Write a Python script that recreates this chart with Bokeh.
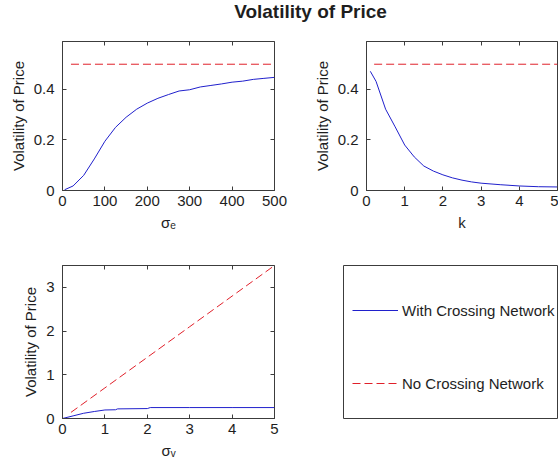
from bokeh.plotting import figure
from bokeh.models import (Range1d, FixedTicker, LinearAxis, Legend, LegendItem, Label,
                          CustomLabelingPolicy)
from bokeh.layouts import column, row
from bokeh.embed import file_html
from bokeh.resources import INLINE

# ---------------- data ----------------
sigma_e = [5, 25, 50, 75, 100, 125, 150, 175, 200, 225, 250, 275, 300, 325, 350, 375, 400, 425, 450, 475, 500]
vol_with_sigma_e = [0.003, 0.018, 0.06, 0.125, 0.195, 0.25, 0.29, 0.322, 0.346, 0.365, 0.38, 0.394, 0.399,
                    0.41, 0.416, 0.422, 0.429, 0.433, 0.44, 0.444, 0.448]
sigma_e_no = [20, 500]
vol_no_sigma_e = [0.5, 0.5]

k_vals = [0.1, 0.25, 0.5, 0.75, 1.0, 1.25, 1.5, 1.75, 2.0, 2.25, 2.5, 2.75, 3.0, 3.5, 4.0, 4.5, 5.0]
vol_with_k = [0.472, 0.432, 0.322, 0.252, 0.18, 0.133, 0.097, 0.077, 0.062, 0.05, 0.041, 0.034, 0.029,
              0.023, 0.018, 0.015, 0.014]
k_no = [0.2, 5.0]
vol_no_k = [0.5, 0.5]

sigma_v = [0.0, 0.25, 0.5, 0.75, 1.0, 1.25, 1.3, 2.0, 2.07, 3.0, 4.0, 5.0]
vol_with_sigma_v = [0.0, 0.06, 0.12, 0.16, 0.195, 0.2, 0.22, 0.227, 0.25, 0.25, 0.25, 0.25]
sigma_v_no = [0.2, 1.0, 2.0, 3.0, 4.0, 5.0]
vol_no_sigma_v = [0.14, 0.7, 1.4, 2.1, 2.8, 3.5]

xticks_e = [0, 100, 200, 300, 400, 500]
xtick_labels_e = ["0", "100", "200", "300", "400", "500"]
xticks_5 = [0, 1, 2, 3, 4, 5]
xtick_labels_5 = ["0", "1", "2", "3", "4", "5"]
yticks_small = [0, 0.2, 0.4]
ytick_labels_small = ["0", "0.2", "0.4"]
yticks_v = [0, 1, 2, 3]
ytick_labels_v = ["0", "1", "2", "3"]

title_text = "Volatility of Price"
ylabel_text = "Volatility of Price"
legend_labels = ["With Crossing Network", "No Crossing Network"]

# ---------------- style ----------------
FONT = "Liberation Sans"
AX = "#3c3c3c"
TXT = "#1e1e1e"
BLUE = "#2020cc"
RED = "#e0202a"
DASH = "8 4"

NO_LABELS = CustomLabelingPolicy(code="""
for (const i of indices) indices.unset(i)
return indices
""")


def make_fig(width, height, left, right, top, bottom, xr, yr):
    p = figure(width=width, height=height, toolbar_location=None, output_backend="svg",
               x_range=Range1d(*xr), y_range=Range1d(*yr),
               min_border_left=left, min_border_right=right,
               min_border_top=top, min_border_bottom=bottom)
    p.background_fill_color = "white"
    p.border_fill_color = "white"
    p.grid.visible = False
    p.outline_line_color = AX
    p.outline_line_width = 1
    return p


def style_axes(p, xt, xl, yt, yl, xlabel, ylabel, right_ticks=True):
    for ax, ticks, labels, lab in ((p.xaxis[0], xt, xl, xlabel), (p.yaxis[0], yt, yl, ylabel)):
        ax.ticker = FixedTicker(ticks=ticks)
        ax.major_label_overrides = {t: s for t, s in zip(ticks, labels)}
        ax.major_tick_in = 4
        ax.major_tick_out = 0
        ax.minor_tick_line_color = None
        ax.axis_line_color = AX
        ax.major_tick_line_color = AX
        ax.major_label_text_font = FONT
        ax.major_label_text_font_size = "15px"
        ax.major_label_text_color = TXT
        ax.axis_label = lab
        ax.axis_label_text_font = FONT
        ax.axis_label_text_font_size = "15px"
        ax.axis_label_text_font_style = "normal"
        ax.axis_label_text_color = TXT
    p.xaxis[0].major_label_standoff = 5
    p.xaxis[0].axis_label_standoff = 5
    p.yaxis[0].major_label_standoff = 8
    p.yaxis[0].axis_label_standoff = 4
    sides = [("above", xt)]
    if right_ticks:
        sides.append(("right", yt))
    for side, ticks in sides:
        a = LinearAxis(ticker=FixedTicker(ticks=ticks), major_label_policy=NO_LABELS,
                       major_label_standoff=0, axis_label_standoff=0,
                       major_tick_in=4, major_tick_out=0,
                       minor_tick_line_color=None, axis_line_color=None,
                       major_tick_line_color=AX)
        p.add_layout(a, side)


# title strip
pt = figure(width=558, height=30, toolbar_location=None, output_backend="svg",
            x_axis_location=None, y_axis_location=None,
            min_border_left=0, min_border_right=0, min_border_top=0, min_border_bottom=0)
pt.outline_line_color = None
pt.grid.visible = False
pt.add_layout(Label(x=310, y=19, x_units="screen", y_units="screen", text=title_text,
                    text_align="center", text_baseline="alphabetic",
                    text_font=FONT, text_font_size="19px", text_font_style="bold",
                    text_color=TXT))

# plot 1: sigma_e
p1 = make_fig(310, 220, 62, 36, 8, 60, (0, 500), (0, 0.59))
p1.line(sigma_e, vol_with_sigma_e, line_color=BLUE, line_width=1)
p1.line(sigma_e_no, vol_no_sigma_e, line_color=RED, line_width=1, line_dash=DASH)
style_axes(p1, xticks_e, xtick_labels_e, yticks_small, ytick_labels_small, "σₑ", ylabel_text)

# plot 2: k
p2 = make_fig(248, 220, 34, 1, 8, 60, (0, 5), (0, 0.59))
p2.line(k_vals, vol_with_k, line_color=BLUE, line_width=1)
p2.line(k_no, vol_no_k, line_color=RED, line_width=1, line_dash=DASH)
style_axes(p2, xticks_5, xtick_labels_5, yticks_small, ytick_labels_small, "k", ylabel_text, right_ticks=False)

# plot 3: sigma_v
p3 = make_fig(310, 217, 62, 36, 15, 49, (0, 5), (0, 3.5))
p3.line(sigma_v, vol_with_sigma_v, line_color=BLUE, line_width=1)
p3.line(sigma_v_no, vol_no_sigma_v, line_color=RED, line_width=1, line_dash=DASH)
style_axes(p3, xticks_5, xtick_labels_5, yticks_v, ytick_labels_v, "σᵥ", ylabel_text)

# plot 4: legend box
p4 = figure(width=248, height=217, toolbar_location=None, output_backend="svg",
            x_range=Range1d(0, 1), y_range=Range1d(0, 1),
            x_axis_location=None, y_axis_location=None,
            min_border_left=33, min_border_right=1, min_border_top=15, min_border_bottom=39)
p4.grid.visible = False
p4.outline_line_color = AX
nan = float("nan")
r_with = p4.line(x=[nan], y=[nan], line_color=BLUE, line_width=1)
r_no = p4.line(x=[nan], y=[nan], line_color=RED, line_width=1, line_dash=DASH)
legend = Legend(items=[LegendItem(label=legend_labels[0], renderers=[r_with]),
                       LegendItem(label=legend_labels[1], renderers=[r_no])],
                location=(9, 25), orientation="vertical",
                glyph_width=46, glyph_height=20, label_height=20, label_standoff=4,
                spacing=53, padding=0, margin=0,
                border_line_color=None, background_fill_alpha=0,
                label_text_font=FONT, label_text_font_size="15px", label_text_color=TXT)
p4.add_layout(legend)

layout = column(pt, row(p1, p2), row(p3, p4))
open("out.html", "w").write(file_html(layout, INLINE))
